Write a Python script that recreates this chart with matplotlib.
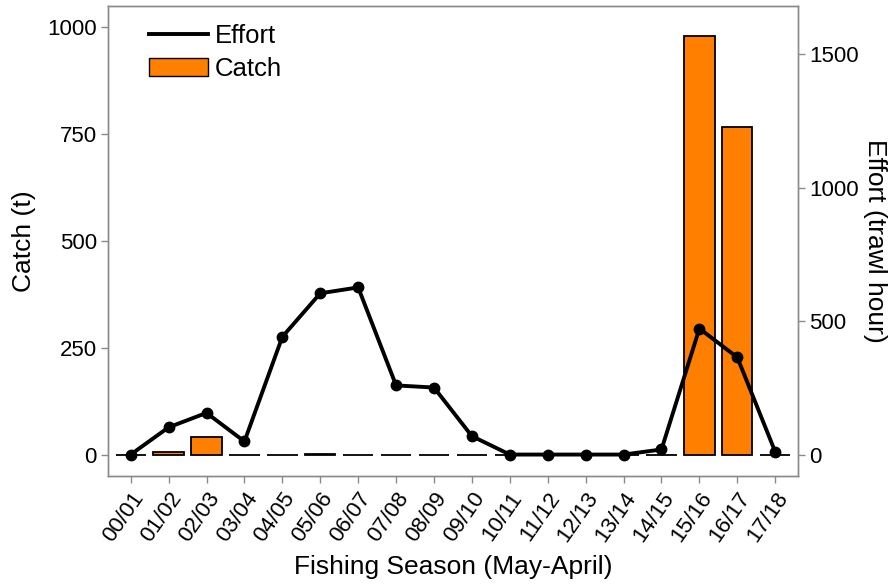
import numpy as np
import matplotlib.pyplot as plt
from matplotlib.lines import Line2D
from matplotlib.patches import Patch

plt.rcParams['font.family'] = ['Liberation Sans', 'DejaVu Sans']

seasons = ['00/01', '01/02', '02/03', '03/04', '04/05', '05/06', '06/07', '07/08', '08/09',
           '09/10', '10/11', '11/12', '12/13', '13/14', '14/15', '15/16', '16/17', '17/18']
catch = [0, 7, 40, 0, 0, 2, 0, 0, 0, 0, 0, 0, 0, 0, 0, 979, 765, 0]
effort = [0, 102, 156, 49, 441, 604, 626, 259, 251, 69, 0, 0, 0, 0, 19, 472, 364, 10]

x = np.arange(len(seasons))
grey = '#8a8a8a'

fig = plt.figure(figsize=(8.92, 5.84), dpi=100)
ax = fig.add_axes([0.121, 0.185, 0.7736, 0.8047])
ax2 = ax.twinx()

ax.bar(x, catch, width=0.8, color='#ff8000', edgecolor='black', linewidth=1.3)
ax2.plot(x, effort, color='black', linewidth=2.8, marker='o', markersize=7.5)

ax.set_xlim(-0.6, 17.6)
ax.set_ylim(-50, 1048)
ax2.set_ylim(-50 * 1.603, 1048 * 1.603)

ax.set_yticks([0, 250, 500, 750, 1000])
ax2.set_yticks([0, 500, 1000, 1500])
ax.set_xticks(x)
ax.set_xticklabels(seasons, rotation=55, ha='right', va='top', rotation_mode='anchor')

for a in (ax, ax2):
    for s in a.spines.values():
        s.set_color(grey)
        s.set_linewidth(1.0)
    a.tick_params(colors=grey, labelcolor='black', labelsize=16, length=5, width=1.0, pad=3)
ax.tick_params(axis='x', pad=4)

ax.set_xlabel('Fishing Season (May-April)', fontsize=19, labelpad=6)
ax.set_ylabel('Catch (t)', fontsize=19, labelpad=8)
ax2.set_ylabel('Effort (trawl hour)', fontsize=19, rotation=270, labelpad=12, va='center')

handles = [Line2D([0], [0], color='black', linewidth=2.8),
           Patch(facecolor='#ff8000', edgecolor='black', linewidth=1.0)]
ax.legend(handles, ['Effort', 'Catch'], loc='upper left', frameon=False, fontsize=18.5,
          handlelength=2.3, handletextpad=0.25, labelspacing=0.35,
          bbox_to_anchor=(0.026, 1.01))

fig.savefig('out.png', dpi=100)
